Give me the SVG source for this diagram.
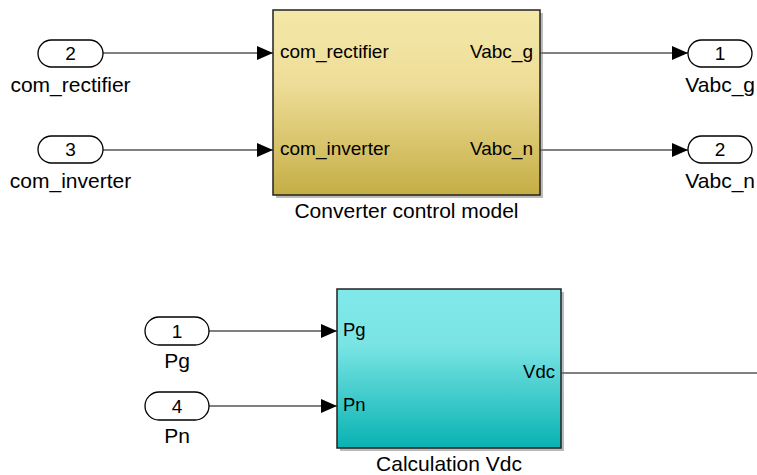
<svg xmlns="http://www.w3.org/2000/svg" width="757" height="475" viewBox="0 0 757 475">
<style>
text{font-family:"Liberation Sans",Arial,sans-serif;font-size:19px;fill:#000}
.lbl{font-size:21px}
.pl{font-size:18.5px}
.pill{fill:#fff;stroke:#000;stroke-width:1.3}
.blk{stroke:#222;stroke-width:1.5}
.shadow{fill:#777;opacity:0.5}
.wire{stroke:#000;stroke-width:1;fill:none}
.mid{text-anchor:middle}
.end{text-anchor:end}
</style>
<defs>
<linearGradient id="gy" x1="0" y1="0" x2="0" y2="1">
<stop offset="0" stop-color="#f4e8a8"/>
<stop offset="0.4" stop-color="#eedd98"/>
<stop offset="1" stop-color="#c5ae45"/>
</linearGradient>
<linearGradient id="gc" x1="0" y1="0" x2="0" y2="1">
<stop offset="0" stop-color="#80e8e8"/>
<stop offset="0.35" stop-color="#7ae4e4"/>
<stop offset="1" stop-color="#08b2b2"/>
</linearGradient>
<marker id="arr" markerWidth="16" markerHeight="14" refX="16" refY="7" orient="auto" markerUnits="userSpaceOnUse">
<path d="M0,0 L16,7 L0,14 Z" fill="#000"/>
</marker>
</defs>
<g id="connectors">
<line class="wire" x1="103" y1="53" x2="273" y2="53" marker-end="url(#arr)"/>
<line class="wire" x1="103" y1="150" x2="273" y2="150" marker-end="url(#arr)"/>
<line class="wire" x1="540" y1="53" x2="688" y2="53" marker-end="url(#arr)"/>
<line class="wire" x1="540" y1="150" x2="688" y2="150" marker-end="url(#arr)"/>
<line class="wire" x1="209" y1="331" x2="337" y2="331" marker-end="url(#arr)"/>
<line class="wire" x1="209" y1="406" x2="337" y2="406" marker-end="url(#arr)"/>
<line class="wire" x1="561" y1="373" x2="757" y2="373"/>
</g>
<g id="in_com_rectifier">
<rect class="pill" x="38" y="40" width="65" height="27" rx="13.5"/>
<text class="mid" x="70.5" y="60">2</text>
<text class="mid lbl" x="70.5" y="92">com_rectifier</text>
</g>
<g id="in_com_inverter">
<rect class="pill" x="38" y="136" width="65" height="27" rx="13.5"/>
<text class="mid" x="70.5" y="156">3</text>
<text class="mid lbl" x="70.5" y="188">com_inverter</text>
</g>
<g id="converter_control_model">
<rect class="shadow" x="276" y="13" width="267" height="185"/>
<rect class="blk" x="273" y="10" width="267" height="185" fill="url(#gy)"/>
<text x="280" y="58">com_rectifier</text>
<text x="280" y="155">com_inverter</text>
<text class="end" x="533" y="58">Vabc_g</text>
<text class="end" x="533" y="155">Vabc_n</text>
<text class="mid lbl" x="406.5" y="218">Converter control model</text>
</g>
<g id="out_Vabc_g">
<rect class="pill" x="688" y="40" width="64" height="27" rx="13.5"/>
<text class="mid" x="720" y="60">1</text>
<text class="end lbl" x="755" y="92">Vabc_g</text>
</g>
<g id="out_Vabc_n">
<rect class="pill" x="688" y="136" width="64" height="27" rx="13.5"/>
<text class="mid" x="720" y="156">2</text>
<text class="end lbl" x="755" y="188">Vabc_n</text>
</g>
<g id="in_Pg">
<rect class="pill" x="145" y="317" width="64" height="28" rx="14"/>
<text class="mid" x="177" y="338">1</text>
<text class="mid lbl" x="177" y="368">Pg</text>
</g>
<g id="in_Pn">
<rect class="pill" x="145" y="392" width="64" height="28" rx="14"/>
<text class="mid" x="177" y="413">4</text>
<text class="mid lbl" x="177" y="443">Pn</text>
</g>
<g id="calculation_vdc">
<rect class="shadow" x="340" y="292" width="224" height="159"/>
<rect class="blk" x="337" y="289" width="224" height="159" fill="url(#gc)"/>
<text class="pl" x="343" y="336">Pg</text>
<text class="pl" x="343" y="411">Pn</text>
<text class="end pl" x="555" y="378">Vdc</text>
<text class="mid lbl" x="449" y="471">Calculation Vdc</text>
</g>
</svg>
